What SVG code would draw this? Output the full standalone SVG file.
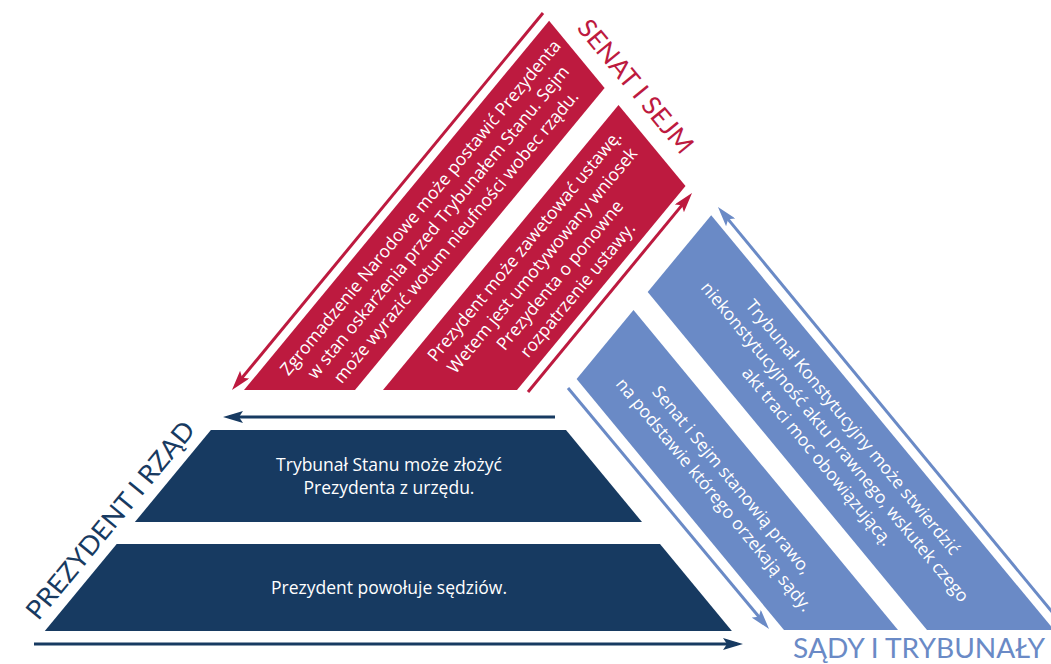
<svg xmlns="http://www.w3.org/2000/svg" width="1051" height="664" viewBox="0 0 1051 664">
<defs>
<style>
.red{fill:#BD1A3F}
.navy{fill:#173A61}
.blue{fill:#6A8AC6}
.t{font-family:"Open Sans","Liberation Sans",sans-serif;font-size:17.5px;fill:#ffffff;text-anchor:middle}
.lbl{font-family:Lato,"Liberation Sans",sans-serif;font-size:26px}
.ln{fill:none;stroke-width:3}
</style>
<marker id="ar" viewBox="0 0 20 12" refX="14" refY="6" markerWidth="20" markerHeight="12" markerUnits="userSpaceOnUse" orient="auto"><path d="M0,0 L20,6 L0,12 L4,6 z" fill="#BD1A3F"/></marker>
<marker id="an" viewBox="0 0 20 12" refX="14" refY="6" markerWidth="20" markerHeight="12" markerUnits="userSpaceOnUse" orient="auto"><path d="M0,0 L20,6 L0,12 L4,6 z" fill="#173A61"/></marker>
<marker id="ab" viewBox="0 0 20 12" refX="14" refY="6" markerWidth="20" markerHeight="12" markerUnits="userSpaceOnUse" orient="auto"><path d="M0,0 L20,6 L0,12 L4,6 z" fill="#6A8AC6"/></marker>
</defs>
<rect width="1051" height="664" fill="#ffffff"/>

<g id="red-band-1">
<polygon class="red" points="244,390 355,390 604.6,88 549.1,20.8"/>
<text class="t" transform="translate(438.2,222.2) rotate(-50.43)"><tspan x="0" y="-17">Zgromadzenie Narodowe może postawić Prezydenta</tspan><tspan x="0" y="6">w stan oskarżenia przed Trybunałem Stanu. Sejm</tspan><tspan x="0" y="29">może wyrazić wotum nieufności wobec rządu.</tspan></text>
</g>
<g id="red-band-2">
<polygon class="red" points="383,390 517,390 685.5,186.1 618.5,105"/>
<text class="t" transform="translate(551,267.8) rotate(-50.43)"><tspan x="0" y="-28.5">Prezydent może zawetować ustawę.</tspan><tspan x="0" y="-5.5">Wetem jest umotywowany wniosek</tspan><tspan x="0" y="17.5">Prezydenta o ponowne</tspan><tspan x="0" y="40.5">rozpatrzenie ustawy.</tspan></text>
</g>
<g id="navy-band-1">
<polygon class="navy" points="210.9,430 566,430 642,522 134.9,522"/>
<text class="t"><tspan x="389" y="471">Trybunał Stanu może złożyć</tspan><tspan x="389" y="494">Prezydenta z urzędu.</tspan></text>
</g>
<g id="navy-band-2">
<polygon class="navy" points="116.7,544 660,544 731.9,631 44.8,631"/>
<text class="t" x="389" y="594">Prezydent powołuje sędziów.</text>
</g>
<g id="blue-band-1">
<polygon class="blue" points="576.6,379 633.5,310 898,630 784,630"/>
<text class="t" transform="translate(723,487.3) rotate(50.43)"><tspan x="0" y="-5.5">Senat i Sejm stanowią prawo,</tspan><tspan x="0" y="17.5">na podstawie którego orzekają sądy.</tspan></text>
</g>
<g id="blue-band-2">
<polygon class="blue" points="647.7,292 711.2,215.2 1054,630 927,630"/>
<text class="t" transform="translate(835,441.8) rotate(50.43)"><tspan x="0" y="-17">Trybunał Konstytucyjny może stwierdzić</tspan><tspan x="0" y="6">niekonstytucyjność aktu prawnego, wskutek czego</tspan><tspan x="0" y="29">akt traci moc obowiązującą.</tspan></text>
</g>

<g id="label-senat">
<text class="lbl" fill="#BD1A3F" text-anchor="middle" textLength="165" lengthAdjust="spacingAndGlyphs" transform="translate(636,86) rotate(50.43)" x="0" y="9.5">SENAT I SEJM</text>
</g>
<g id="label-prezydent">
<text class="lbl" fill="#173A61" text-anchor="middle" textLength="248" lengthAdjust="spacingAndGlyphs" transform="translate(110,520) rotate(-50.43)" x="0" y="9.5">PREZYDENT I RZĄD</text>
</g>
<g id="label-sady">
<text class="lbl" fill="#6A8AC6" x="793" y="658" textLength="252" lengthAdjust="spacingAndGlyphs">SĄDY I TRYBUNAŁY</text>
</g>

<g id="connectors">
<line class="ln" stroke="#BD1A3F" x1="543" y1="13" x2="235.8" y2="385.4" marker-end="url(#ar)"/>
<line class="ln" stroke="#BD1A3F" x1="528" y1="392" x2="688.2" y2="197.6" marker-end="url(#ar)"/>
<line class="ln" stroke="#173A61" x1="555" y1="417" x2="229" y2="417" marker-end="url(#an)"/>
<line class="ln" stroke="#173A61" x1="34" y1="644" x2="737" y2="644" marker-end="url(#an)"/>
<line class="ln" stroke="#6A8AC6" x1="568" y1="388" x2="765.2" y2="624.4" marker-end="url(#ab)"/>
<line class="ln" stroke="#6A8AC6" x1="1062" y1="624" x2="721.8" y2="211.6" marker-end="url(#ab)"/>
</g>
</svg>
